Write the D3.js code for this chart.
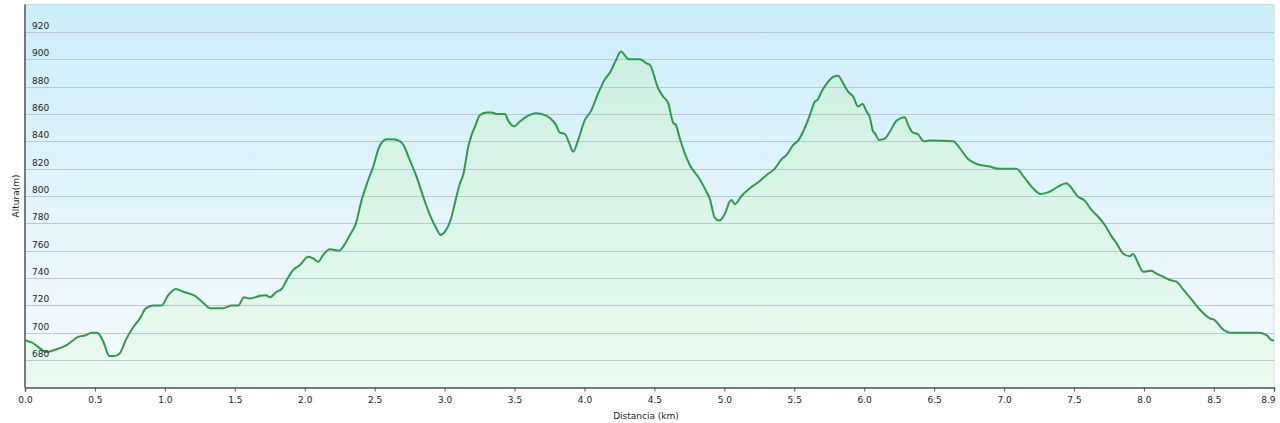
<!DOCTYPE html>
<html><head><meta charset="utf-8">
<script src="https://cdn.jsdelivr.net/npm/d3@7"></script>
<style>
html,body{margin:0;padding:0;background:#fff;}
svg{display:block;font-family:"DejaVu Sans",Verdana,sans-serif;}
</style></head>
<body>
<svg id="chart" width="1280" height="423"></svg>
<script>
const distanceKm = [0.000,0.048,0.155,0.227,0.298,0.381,0.429,0.477,0.517,0.560,0.603,0.631,0.674,0.722,0.774,0.822,0.865,0.917,0.977,1.024,1.079,1.132,1.215,1.274,1.322,1.370,1.417,1.477,1.525,1.565,1.608,1.680,1.723,1.751,1.799,1.835,1.871,1.918,1.966,2.025,2.061,2.097,2.132,2.180,2.247,2.275,2.323,2.366,2.407,2.454,2.490,2.533,2.585,2.633,2.697,2.752,2.800,2.847,2.895,2.943,2.971,3.002,3.043,3.074,3.109,3.133,3.169,3.193,3.217,3.252,3.300,3.336,3.372,3.431,3.455,3.498,3.538,3.586,3.653,3.693,3.753,3.796,3.824,3.860,3.891,3.919,3.955,4.003,4.044,4.098,4.146,4.182,4.224,4.260,4.317,4.396,4.444,4.467,4.527,4.562,4.598,4.634,4.653,4.682,4.718,4.753,4.820,4.873,4.896,4.932,4.963,5.004,5.039,5.052,5.075,5.123,5.182,5.242,5.302,5.361,5.409,5.445,5.492,5.528,5.563,5.611,5.647,5.670,5.695,5.731,5.778,5.813,5.849,5.885,5.921,5.956,5.988,6.017,6.040,6.064,6.076,6.106,6.147,6.183,6.231,6.290,6.314,6.345,6.386,6.426,6.469,6.636,6.683,6.743,6.803,6.898,6.957,7.088,7.148,7.207,7.260,7.327,7.386,7.446,7.470,7.529,7.577,7.625,7.672,7.720,7.768,7.804,7.851,7.899,7.923,7.959,7.994,8.054,8.077,8.137,8.185,8.232,8.280,8.340,8.399,8.471,8.506,8.558,8.626,8.816,8.877,8.902,8.930];
const elevationM = [694.6,693,686,688,691,697,698,700,700,693.5,683,683,684.5,695,704,710.5,718,720,720,727.5,732,730,727,722,718,718,718,720,720,726,725,727,727.5,726,730,732,738.5,746,749.5,755.6,754.4,752,757,761,760,763,771.5,780,797,811.7,821.5,836,841.5,841.5,838.6,826,814,799.5,786,776,771.5,774,782.5,795,809,815.4,836,844.6,850.7,859,861,861,860,860,855,851,854.4,858,860.5,860,857,852,846.3,845.4,838.6,832.4,841,855.6,861.7,875,885.4,890.2,899,905.6,900,900,897,896,878.8,872.7,868,853.6,852,842,831,822.7,813,803,798,784,782,787,796,797,794,800,805.6,810,815.4,820,826.9,830,837.3,840.5,847,859,869,870.7,876.3,882,887,888,882.5,876.3,872.7,865.4,867.3,861.7,857.6,847,845.9,841,842,847,855,857.6,852,846.6,845,840,840.5,840,835,827,823.4,821.5,820,820,813,805.6,801.5,803.2,806.8,809.3,807.3,799.5,796.6,789.8,785,778.8,770.7,765.4,758,756,757.6,750.7,744.6,745.4,744,741,738.6,737.4,731.8,724.4,717,710.5,709.3,703.2,700,700,698.3,695.4,694.1];
const xTicks = [0,0.5,1,1.5,2,2.5,3,3.5,4,4.5,5,5.5,6,6.5,7,7.5,8,8.5,8.93];
const yTicks = [680,700,720,740,760,780,800,820,840,860,880,900,920];
const xTitle = "Distancia  (km)";
const yTitle = "Altura(m)";

const data = distanceKm.map((d,i)=>({x:d,y:elevationM[i]}));
const svg = d3.select("#chart");
const L=25, R=1274, T=4.5, B=387.5;
const x = d3.scaleLinear().domain([0,8.93]).range([L,R]);
const y = d3.scaleLinear().domain([660,940]).range([B,T]);

const defs = svg.append("defs");
const bg = defs.append("linearGradient").attr("id","bg").attr("x1",0).attr("y1",0).attr("x2",0).attr("y2",1);
bg.append("stop").attr("offset","0%").attr("stop-color","#cbedf9");
bg.append("stop").attr("offset","55%").attr("stop-color","#e4f5fb");
bg.append("stop").attr("offset","100%").attr("stop-color","#f5fbfd");
const ag = defs.append("linearGradient").attr("id","ag").attr("gradientUnits","userSpaceOnUse")
  .attr("x1",0).attr("y1",T).attr("x2",0).attr("y2",B);
ag.append("stop").attr("offset","0%").attr("stop-color","#c8eedd").attr("stop-opacity",0.9);
ag.append("stop").attr("offset","100%").attr("stop-color","#eafbee").attr("stop-opacity",0.9);

svg.append("rect").attr("x",L).attr("y",T).attr("width",R-L).attr("height",B-T)
  .attr("fill","url(#bg)").attr("stroke","#cfd6da").attr("stroke-width",1);

svg.append("path").datum(data)
  .attr("d", d3.area().x(d=>x(d.x)).y0(B).y1(d=>y(d.y)))
  .attr("fill","url(#ag)");

// gridlines
svg.append("g").selectAll("line").data(yTicks).join("line")
  .attr("x1",L).attr("x2",R).attr("y1",d=>Math.round(y(d))+0.5).attr("y2",d=>Math.round(y(d))+0.5)
  .attr("stroke","#b9c9cf").attr("stroke-width",1);

svg.append("path").datum(data)
  .attr("d", d3.line().x(d=>x(d.x)).y(d=>y(d.y)).curve(d3.curveMonotoneX))
  .attr("fill","none").attr("stroke","#2f9a4d").attr("stroke-width",2).attr("stroke-linejoin","round");

// y labels
svg.append("g").selectAll("text").data(yTicks).join("text")
  .attr("x",L+7).attr("y",d=>y(d)-3).attr("font-size",9).attr("fill","#222").text(d=>d);

// axes
svg.append("line").attr("x1",L).attr("x2",L).attr("y1",T).attr("y2",B).attr("stroke","#555").attr("stroke-width",1.5);
const xAxis = d3.axisBottom(x).tickValues(xTicks).tickSize(4).tickFormat(d3.format(".1f"));
const gx = svg.append("g").attr("transform",`translate(0,${B})`).call(xAxis);
gx.select(".domain").attr("stroke","#555").attr("stroke-width",1.5);
gx.selectAll(".tick line").attr("stroke","#555");
gx.selectAll("text").attr("font-size",9).attr("fill","#222").attr("font-family","DejaVu Sans").attr("dy","0.9em");
gx.selectAll(".tick").filter(d=>d===8.93).select("text").attr("text-anchor","end").attr("x",1);

svg.append("text").attr("x",646).attr("y",419).attr("text-anchor","middle")
  .attr("font-size",9).attr("fill","#222").text(xTitle);
svg.append("text").attr("transform","translate(19,196) rotate(-90)").attr("text-anchor","middle")
  .attr("font-size",9).attr("fill","#222").text(yTitle);
</script>
</body></html>
